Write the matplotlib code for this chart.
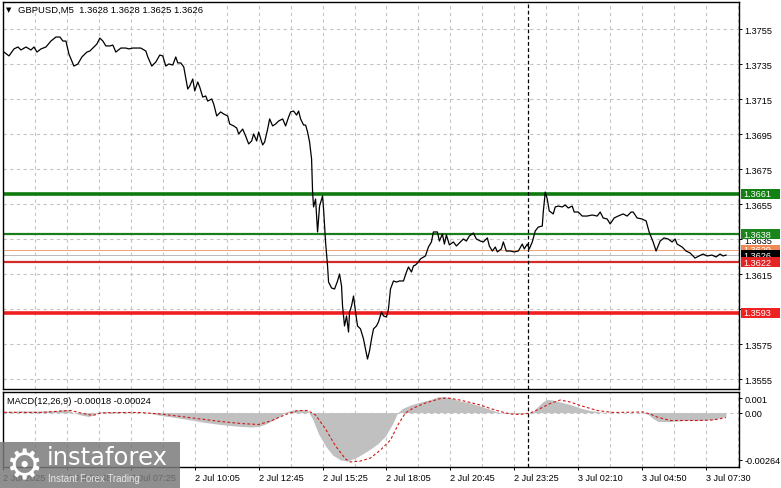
import matplotlib
matplotlib.use('Agg')
import matplotlib.pyplot as plt
from matplotlib.patches import Rectangle
from matplotlib.transforms import blended_transform_factory

plt.rcParams['font.family'] = ['Liberation Sans', 'DejaVu Sans']

# ---------------- data ----------------
title_text = "GBPUSD,M5  1.3628 1.3628 1.3625 1.3626"
macd_text = "MACD(12,26,9) -0.00018 -0.00024"

price_bar = [
    0.5, 3, 5.5, 7.5, 9, 11.5, 14, 15.5, 17, 19, 21.5, 24, 26.5, 28.5, 30, 31.5, 33, 35.5, 37.5, 39.5,
    42, 43.5, 45.5, 47, 48.5, 50, 51.5, 53.5, 55, 56.5, 59, 61.5, 63, 65, 66.5, 69, 71.5, 72.5, 74.5, 76.5, 78.5,
    80, 81.5, 83, 85, 86.5, 87.5, 89, 90.5, 92.5, 93.5, 95, 96, 97.5, 98.5, 100, 101.5, 102.5, 104.5, 105.5, 107,
    109, 110.5, 112.5, 113.5, 115.5, 117, 118, 120, 121.5, 123, 124.5, 125.5, 127, 128, 130, 131, 132.5, 133.5, 135, 136.5,
    138, 140, 141.5, 143, 144, 145.5, 147, 148, 149, 150.5, 151.5, 152.5, 153.5, 154.5,
    155, 155.5, 156.5, 157.5, 158.5, 160, 160.5, 161.5, 162.5, 163, 164.5, 166, 167.5, 168.5, 169.5,
    170, 171, 172, 173, 173.5, 174.5, 175.5, 176.5, 177.5, 179, 180.5, 181.5, 182.5, 183.5, 184.5,
    185.5, 187, 188, 189.5, 190.5, 192, 193, 194, 195.5, 197, 198.5, 200.5, 202, 203, 204.5, 205.5, 206.5, 208,
    209, 211.5, 213, 214.5, 215.5, 217.5, 218.5, 220, 221, 222, 223.5, 225.5, 227, 229, 230.5,
    232, 233.5, 235.5, 237, 239, 240.5, 242.5, 243.5, 245, 246.5, 247.5, 249.5, 250.5, 252, 254,
    256, 258, 260, 261, 262.5, 263.5, 265, 266.5, 268, 270, 270.5, 271.5, 272.5, 273.5, 275.5,
    276.5, 278, 280, 281.5, 283, 285, 286, 288, 290, 292.5, 295, 297.5, 299, 300.5, 302.5,
    304, 306, 308, 310.5, 312.5, 314.5, 315.5, 317.5, 320, 322, 323.5, 325.5, 327, 329, 331,
    333, 335, 336.5, 337.5, 340, 342, 344, 346.5, 348.5, 350.5, 352.5, 355, 357, 359, 360.5, 362,
]
price_close = [
    1.37421, 1.37399, 1.37439, 1.37450, 1.37433, 1.37450, 1.37433, 1.37450, 1.37421, 1.37439,
    1.37450, 1.37484, 1.37507, 1.37507, 1.37484, 1.37484, 1.37410, 1.37341, 1.37353, 1.37393,
    1.37421, 1.37427, 1.37450, 1.37467, 1.37501, 1.37484, 1.37456, 1.37456, 1.37461, 1.37421,
    1.37444, 1.37444, 1.37439, 1.37444, 1.37444, 1.37444, 1.37427, 1.37393, 1.37341, 1.37364, 1.37404,
    1.37399, 1.37341, 1.37353, 1.37347, 1.37393, 1.37359, 1.37359, 1.37336, 1.37210, 1.37227,
    1.37267, 1.37199, 1.37250, 1.37221, 1.37164, 1.37170, 1.37141, 1.37153, 1.37124, 1.37056,
    1.37079, 1.37067, 1.37056, 1.37010, 1.36999, 1.36987, 1.36953, 1.36981, 1.36941, 1.36896,
    1.36913, 1.36953, 1.36913, 1.36964, 1.36890, 1.36907, 1.36981, 1.37039, 1.36999, 1.37010,
    1.37027, 1.37039, 1.36999, 1.37050, 1.37079, 1.37084, 1.37061, 1.37084, 1.37039, 1.37004,
    1.37004, 1.36964, 1.36907, 1.36810,
    1.36621, 1.36536, 1.36581, 1.36393, 1.36541, 1.36599, 1.36524, 1.36336, 1.36199, 1.36107,
    1.36073, 1.36067, 1.36113, 1.36153, 1.36084, 1.35970, 1.35856, 1.35913, 1.35821, 1.35936,
    1.35970, 1.36027, 1.35936, 1.35856, 1.35839, 1.35781, 1.35724, 1.35667, 1.35713, 1.35781,
    1.35839, 1.35856, 1.35879, 1.35936, 1.35913, 1.35907, 1.35953, 1.36067, 1.36113, 1.36107,
    1.36113, 1.36113, 1.36164, 1.36193, 1.36164, 1.36199, 1.36204, 1.36221,
    1.36239, 1.36256, 1.36307, 1.36336, 1.36393, 1.36393, 1.36341, 1.36381, 1.36324, 1.36376,
    1.36319, 1.36336, 1.36313, 1.36336, 1.36353, 1.36341, 1.36370, 1.36387, 1.36353, 1.36341,
    1.36336, 1.36359, 1.36313, 1.36284, 1.36307, 1.36279, 1.36296, 1.36336, 1.36284, 1.36284,
    1.36279, 1.36284, 1.36324, 1.36296, 1.36324, 1.36296, 1.36336, 1.36399, 1.36421, 1.36427,
    1.36507, 1.36621, 1.36581, 1.36513, 1.36496, 1.36536, 1.36541, 1.36536, 1.36547, 1.36530,
    1.36541, 1.36507, 1.36507, 1.36484, 1.36484, 1.36490, 1.36484, 1.36507, 1.36473, 1.36467,
    1.36439, 1.36473, 1.36484, 1.36496, 1.36484, 1.36507, 1.36507, 1.36473, 1.36467, 1.36456,
    1.36393, 1.36336, 1.36284, 1.36341, 1.36359, 1.36353, 1.36336, 1.36353, 1.36324, 1.36307,
    1.36284, 1.36273, 1.36244, 1.36256, 1.36267, 1.36256, 1.36261, 1.36250, 1.36267, 1.36256, 1.36261,
]

macd_bar = [0.5, 9, 19, 27.5, 30, 32.5, 35, 39, 43, 45, 47.5, 51.5, 59, 69, 74, 79, 86.5, 94, 101.5, 109,
            116.5, 124, 128, 131.5, 136.5, 141.5, 145, 149, 152.5, 155, 158, 161.5, 165, 169, 172.5,
            176.5, 180, 184, 187.5, 191.5, 195, 197.5, 200, 204, 209, 214, 217.5, 220.5, 224, 229,
            234, 239, 244, 249, 254, 259, 262.5, 265.5, 268, 270.5, 272.5, 275, 279, 284, 289, 294,
            299, 305.5, 314, 320.5, 323, 325.5, 328, 334, 341.5, 349, 355.5, 362]
macd_main = [0.000053, 0.000078, 0.000078, 0.000102, 0.000150, 0.000150, 0.000005, -0.000116, -0.000189,
             -0.000116, 0.000029, 0.000053, 0.000053, 0.000029, -0.000044, -0.000141, -0.000238, -0.000359,
             -0.000480, -0.000578, -0.000650, -0.000699, -0.000675, -0.000553, -0.000311, 0.000029,
             0.000126, 0.000150, 0.000102, -0.000311, -0.001039, -0.001621, -0.002058, -0.002300,
             -0.002349, -0.002203, -0.002009, -0.001766, -0.001524, -0.001136, -0.000553, -0.000019,
             0.000199, 0.000369, 0.000514, 0.000636, 0.000757, 0.000781, 0.000709, 0.000563, 0.000466,
             0.000320, 0.000150, -0.000019, -0.000044, -0.000044, -0.000044, 0.000053, 0.000320,
             0.000539, 0.000636, 0.000611, 0.000514, 0.000393, 0.000223, 0.000102, 0.000029, 0.0, 0.0,
             0.0, -0.000092, -0.000286, -0.000432, -0.000432, -0.000383, -0.000383, -0.000335, -0.000180]

signal_bar = [0.5, 19, 29, 34, 39, 45, 49, 59, 69, 79, 89, 99, 109, 119, 128, 134, 141.5, 147.5, 152.5,
              156.5, 161.5, 166.5, 171.5, 174, 179, 184, 189, 194, 198, 201.5, 205.5, 211.5, 219, 222.5,
              227.5, 234, 239, 244, 249, 254, 259, 264, 269, 274, 279, 284, 289, 297.5, 305.5, 320.5,
              324, 327.5, 334, 341.5, 347.5, 355.5, 362]
signal_val = [0.000015, 0.000005, 0.000078, 0.000102, -0.000019, -0.000141, -0.000019, 0.000005, 0.000005,
              -0.000068, -0.000189, -0.000311, -0.000432, -0.000529, -0.000578, -0.000408, -0.000092,
              0.000102, 0.000102, -0.000116, -0.000796, -0.001621, -0.002252, -0.002397, -0.002349,
              -0.002203, -0.001815, -0.001330, -0.000553, -0.000019, 0.000223, 0.000466, 0.000684,
              0.000709, 0.000636, 0.000490, 0.000369, 0.000199, 0.000053, -0.000068, -0.000092,
              -0.000019, 0.000199, 0.000442, 0.000611, 0.000514, 0.000345, 0.000102, 0.000005, 0.000029,
              -0.000068, -0.000214, -0.000383, -0.000383, -0.000383, -0.000359, -0.000240]

price_ticks = [1.3755, 1.3735, 1.3715, 1.3695, 1.3675, 1.3655, 1.3635, 1.3615, 1.3595, 1.3575, 1.3555]
hidden_tick_labels = [1.3595]
level_prices = [1.3661, 1.3638, 1.3629, 1.3626, 1.3622, 1.3593]
level_labels = ["1.3661", "1.3638", "1.3629", "1.3626", "1.3622", "1.3593"]
time_bars = [0, 32, 64, 96, 128, 160, 192, 224, 256, 288, 320, 352]
time_labels = ["2 Jul 2025", "2 Jul 04:45", "2 Jul 07:25", "2 Jul 10:05", "2 Jul 12:45", "2 Jul 15:25",
               "2 Jul 18:05", "2 Jul 20:45", "2 Jul 23:25", "3 Jul 02:10", "3 Jul 04:50", "3 Jul 07:30"]
separator_bar = 263
macd_tick_vals = [0.000694, 0.0, -0.0023]
macd_tick_labels = ["0.001", "0.00", "-0.00264"]

# ---------------- styles ----------------
line_colors = ['#0e7a0e', '#1a7f1a', '#f0a57a', '#bdbdbd', '#d42a2a', '#f01e1e']
line_widths = [3.6, 2.2, 1.0, 1.0, 2.2, 3.6]
box_colors = ['#128012', '#1c841c', '#f08a55', '#000000', '#e42424', '#ee2020']
GRID = '#c4c4c4'

W, H = 781, 489
fig = plt.figure(figsize=(W / 100, H / 100), dpi=100)
fig.patch.set_facecolor('white')


def fx(x):
    return x / W


def fy(y):
    return 1 - y / H


ax = fig.add_axes([fx(3), fy(390), fx(739) - fx(3), fy(3) - fy(390)])
axm = fig.add_axes([fx(3), fy(468), fx(739) - fx(3), fy(393) - fy(468)], sharex=ax)

xmin, xmax = 0.5, 368.5
ax.set_xlim(xmin, xmax)
ymin, ymax = 1.354957, 1.377071
ax.set_ylim(ymin, ymax)

# grid
for b in range(0, 369, 16):
    ax.axvline(b, color=GRID, lw=0.8, ls=(0, (3, 3)), zorder=0)
    axm.axvline(b, color=GRID, lw=0.8, ls=(0, (3, 3)), zorder=0)
for p in price_ticks:
    ax.axhline(p, color=GRID, lw=0.8, ls=(0, (3, 3)), zorder=0)
axm.axhline(0, color=GRID, lw=0.8, ls=(0, (3, 3)), zorder=0)

# levels
for p, c, w in zip(level_prices, line_colors, line_widths):
    ax.axhline(p, color=c, lw=w * 0.72, zorder=2)

# price
ax.plot(price_bar, price_close, color='black', lw=0.9, zorder=3)

# separator
ax.axvline(separator_bar, color='black', lw=0.9, ls=(0, (3, 2)), zorder=4)
axm.axvline(separator_bar, color='black', lw=0.9, ls=(0, (3, 2)), zorder=4)

# MACD
axm.set_ylim(-0.00264, 0.001)
axm.fill_between(macd_bar, 0, macd_main, color='#c0c0c0', lw=0, zorder=1)
axm.plot(signal_bar, signal_val, color='#d01818', lw=0.8, ls=(0, (2.5, 2)), zorder=3)

# axes styling
for a in (ax, axm):
    for s in a.spines.values():
        s.set_color('black')
        s.set_linewidth(1.0)
    a.yaxis.tick_right()
    a.tick_params(axis='y', direction='out', length=2.2, width=0.7, pad=1.5, labelsize=6.6,
                  colors='black')

ax.set_yticks(price_ticks)
ax.set_yticklabels(["" if p in hidden_tick_labels else f"{p:.4f}" for p in price_ticks])
ax.tick_params(axis='x', bottom=False, labelbottom=False)

axm.set_yticks(macd_tick_vals)
axm.set_yticklabels(macd_tick_labels)
axm.set_xticks(time_bars)
axm.set_xticklabels(time_labels, ha='left')
axm.tick_params(axis='x', direction='out', length=2.2, width=0.7, pad=2, labelsize=6.6)

# title texts
fig.text(fx(6), fy(10.5), '\u25bc', fontsize=5, family='DejaVu Sans', va='center', ha='left')
fig.text(fx(18), fy(10.5), title_text, fontsize=6.8, va='center', ha='left')
fig.text(fx(7), fy(401.5), macd_text, fontsize=6.7, va='center', ha='left')

# price label boxes on the right axis
trans = blended_transform_factory(fig.transFigure, ax.transData)
box_h = 10.5 * (ymax - ymin) / 387.0
for i, (p, lab, bc) in enumerate(zip(level_prices, level_labels, box_colors)):
    rect = Rectangle((fx(741), p - box_h / 2), fx(780) - fx(741), box_h, transform=trans,
                     facecolor=bc, edgecolor='none', zorder=10 + 2 * i, clip_on=False)
    fig.add_artist(rect)
    fig.text(fx(743), p, lab, transform=trans, fontsize=6.6, color='white', va='center', ha='left',
             zorder=11 + 2 * i)

# watermark
wm = Rectangle((0, 0), fx(180), fy(443), transform=fig.transFigure, facecolor='#7b7b7b',
               edgecolor='none', alpha=0.85, zorder=30)
fig.add_artist(wm)
fig.text(fx(24), fy(467), '\u2699', fontsize=30, family='DejaVu Sans', color='white',
         va='center', ha='center', zorder=31)
fig.text(fx(47), fy(458), 'instaforex', fontsize=17.5, family='DejaVu Sans', color='white',
         va='center', ha='left', zorder=31)
fig.text(fx(48), fy(479.5), 'Instant Forex Trading', fontsize=7, color='#e6e6e6',
         va='center', ha='left', zorder=31)

fig.savefig('out.png', dpi=100)
